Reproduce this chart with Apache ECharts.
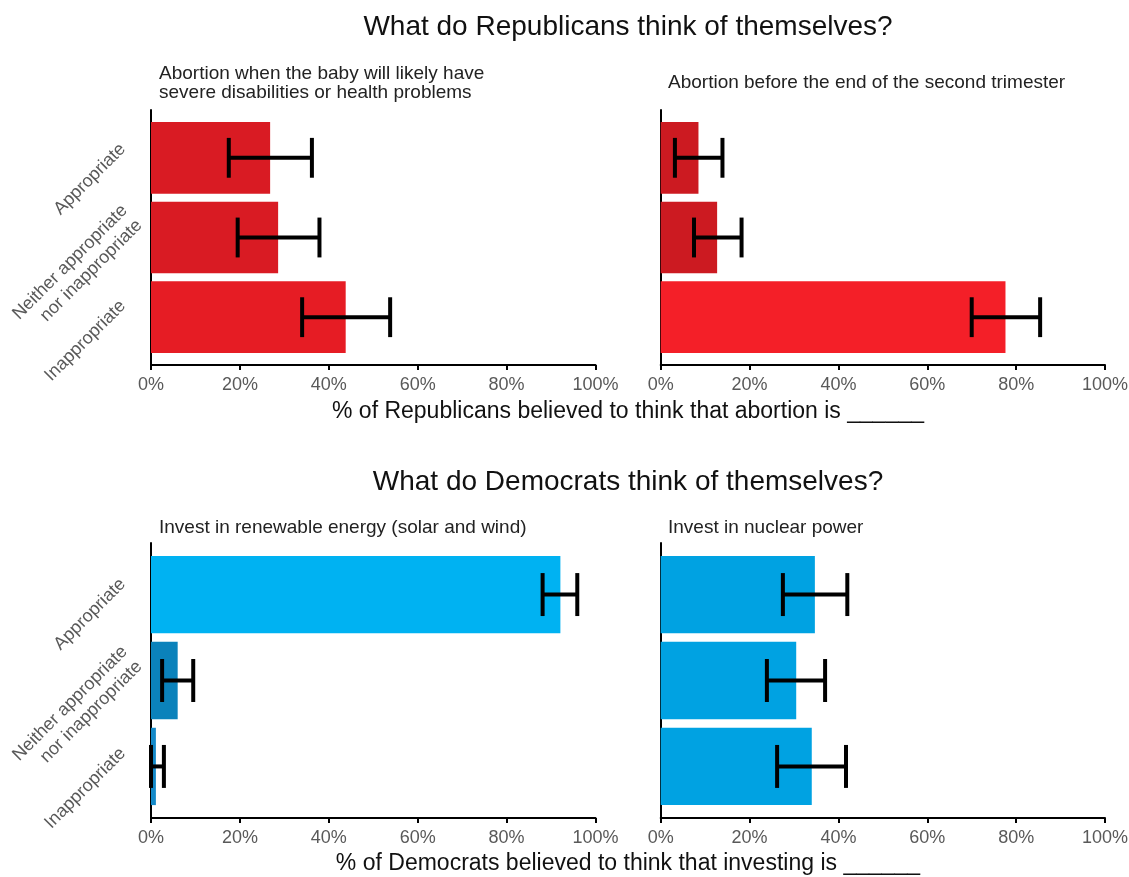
<!DOCTYPE html>
<html>
<head>
<meta charset="utf-8">
<title>What do partisans think of themselves?</title>
<script src="https://cdn.jsdelivr.net/npm/echarts@6/dist/echarts.min.js"></script>
<style>
  html, body { margin: 0; padding: 0; background: #fff; }
  #chart { width: 1129px; height: 877px; }
</style>
</head>
<body>
<div id="chart"></div>
<script>
// categories (top to bottom)
const categories = ['Appropriate', 'Neither appropriate\nnor inappropriate', 'Inappropriate'];
const tickLabels = [0, 20, 40, 60, 80, 100];

// Republicans: abortion when baby will likely have severe disabilities
const repSevere = [26.8, 28.6, 43.8];
const repSevereLow = [17.5, 19.5, 34.0];
const repSevereHigh = [36.2, 37.9, 53.8];

// Republicans: abortion before end of second trimester
const repTrimester = [8.5, 12.7, 77.6];
const repTrimesterLow = [3.2, 7.5, 70.0];
const repTrimesterHigh = [13.9, 18.2, 85.4];

// Democrats: invest in renewable energy
const demRenewable = [92.1, 6.0, 1.1];
const demRenewableLow = [88.1, 2.5, 0];
const demRenewableHigh = [95.9, 9.5, 2.9];

// Democrats: invest in nuclear power
const demNuclear = [34.7, 30.5, 34.0];
const demNuclearLow = [27.5, 23.9, 26.2];
const demNuclearHigh = [42.0, 37.0, 41.7];

const FONT = "'Liberation Sans', Arial, sans-serif";

let myChart = echarts.init(document.getElementById('chart'));

// bars drawn with the axis scales
function barSeries(idx, values, colors) {
  return {
    type: 'custom',
    xAxisIndex: idx,
    yAxisIndex: idx,
    silent: true,
    encode: { x: 0, y: 1 },
    data: values.map(function (v, i) { return [v, i]; }),
    renderItem: function (params, api) {
      let y = api.value(1);
      let start = api.coord([0, y]);
      let end = api.coord([api.value(0), y]);
      let h = api.size([0, 0.9])[1];
      return {
        type: 'rect',
        shape: { x: start[0], y: start[1] - h / 2, width: end[0] - start[0], height: h },
        style: { fill: colors[params.dataIndex] }
      };
    }
  };
}

function errorSeries(idx, low, high) {
  return {
    type: 'custom',
    xAxisIndex: idx,
    yAxisIndex: idx,
    silent: true,
    z: 5,
    encode: { x: [0, 1], y: 2 },
    data: low.map(function (v, i) { return [v, high[i], i]; }),
    renderItem: function (params, api) {
      let y = api.value(2);
      let a = api.coord([api.value(0), y]);
      let b = api.coord([api.value(1), y]);
      let cap = api.size([0, 0.5])[1] / 2;
      let st = { stroke: '#000', lineWidth: 4 };
      return {
        type: 'group',
        children: [
          { type: 'line', shape: { x1: a[0], y1: a[1], x2: b[0], y2: b[1] }, style: st },
          { type: 'line', shape: { x1: a[0], y1: a[1] - cap, x2: a[0], y2: a[1] + cap }, style: st },
          { type: 'line', shape: { x1: b[0], y1: b[1] - cap, x2: b[0], y2: b[1] + cap }, style: st }
        ]
      };
    }
  };
}

function xAxisOf(idx) {
  return {
    type: 'value',
    gridIndex: idx,
    min: tickLabels[0],
    max: tickLabels[tickLabels.length - 1],
    interval: 20,
    splitLine: { show: false },
    axisLine: { show: true, onZero: false, lineStyle: { color: '#000', width: 2 } },
    axisTick: { show: true, length: 5, lineStyle: { color: '#000', width: 2 } },
    axisLabel: {
      formatter: '{value}%', color: '#595959', fontSize: 18,
      fontFamily: FONT, margin: 11, showMinLabel: true, showMaxLabel: true
    }
  };
}

// rotated category labels, placed a little above each bar like the original
function catLabel(v) {
  let i = v < 0.3 ? 0 : (v < 1.3 ? 1 : 2);
  return i === 1 ? categories[i] : '{s|' + categories[i] + '}';
}

function yAxisOf(idx, labels) {
  return {
    type: 'value',
    gridIndex: idx,
    inverse: true,
    min: -0.6,
    max: 2.6,
    splitLine: { show: false },
    axisTick: { show: false },
    axisLine: { show: true, onZero: false, lineStyle: { color: '#000', width: 2 } },
    axisLabel: {
      show: labels,
      customValues: [-0.26, 0.72, 1.71],
      rotate: 45,
      margin: 19,
      color: '#595959',
      fontSize: 18,
      lineHeight: 21,
      fontFamily: FONT,
      formatter: catLabel,
      rich: {
        s: { color: '#595959', fontSize: 18, lineHeight: 21, fontFamily: FONT, padding: [0, 13, 0, 0] }
      }
    }
  };
}

function gridOf(left, top, width, height) {
  return { left: left, top: top, width: width, height: height, outerBoundsMode: 'none', containLabel: false };
}

let option = {
  backgroundColor: '#fff',
  animation: false,
  title: [
    { text: 'What do Republicans think of themselves?', left: 628, top: 13, textAlign: 'center', padding: 0,
      textStyle: { fontSize: 28, fontWeight: 'normal', color: '#111', fontFamily: FONT } },
    { text: 'Abortion when the baby will likely have\nsevere disabilities or health problems', left: 159, top: 64, padding: 0,
      textStyle: { fontSize: 19, fontWeight: 'normal', color: '#222', lineHeight: 19, fontFamily: FONT } },
    { text: 'Abortion before the end of the second trimester', left: 668, top: 73, padding: 0,
      textStyle: { fontSize: 19, fontWeight: 'normal', color: '#222', lineHeight: 19, fontFamily: FONT } },
    { text: '% of Republicans believed to think that abortion is ______', left: 628, top: 400, textAlign: 'center', padding: 0,
      textStyle: { fontSize: 23, fontWeight: 'normal', color: '#111', fontFamily: FONT } },
    { text: 'What do Democrats think of themselves?', left: 628, top: 468, textAlign: 'center', padding: 0,
      textStyle: { fontSize: 28, fontWeight: 'normal', color: '#111', fontFamily: FONT } },
    { text: 'Invest in renewable energy (solar and wind)', left: 159, top: 518, padding: 0,
      textStyle: { fontSize: 19, fontWeight: 'normal', color: '#222', lineHeight: 19, fontFamily: FONT } },
    { text: 'Invest in nuclear power', left: 668, top: 518, padding: 0,
      textStyle: { fontSize: 19, fontWeight: 'normal', color: '#222', lineHeight: 19, fontFamily: FONT } },
    { text: '% of Democrats believed to think that investing is ______', left: 628, top: 852, textAlign: 'center', padding: 0,
      textStyle: { fontSize: 23, fontWeight: 'normal', color: '#111', fontFamily: FONT } }
  ],
  grid: [
    gridOf(151, 110, 444.5, 255),
    gridOf(660.7, 110, 444.3, 255),
    gridOf(151, 543, 444.5, 275),
    gridOf(660.7, 543, 444.3, 275)
  ],
  xAxis: [xAxisOf(0), xAxisOf(1), xAxisOf(2), xAxisOf(3)],
  yAxis: [yAxisOf(0, true), yAxisOf(1, false), yAxisOf(2, true), yAxisOf(3, false)],
  series: [
    barSeries(0, repSevere, ['#d91b23', '#d91b23', '#e61c24']),
    errorSeries(0, repSevereLow, repSevereHigh),
    barSeries(1, repTrimester, ['#cc1a21', '#cc1a21', '#f41f28']),
    errorSeries(1, repTrimesterLow, repTrimesterHigh),
    barSeries(2, demRenewable, ['#00b2f2', '#0b82bb', '#1489c8']),
    errorSeries(2, demRenewableLow, demRenewableHigh),
    barSeries(3, demNuclear, ['#00a2e2', '#00a2e2', '#00a2e2']),
    errorSeries(3, demNuclearLow, demNuclearHigh)
  ]
};
myChart.setOption(option);
</script>
</body>
</html>
